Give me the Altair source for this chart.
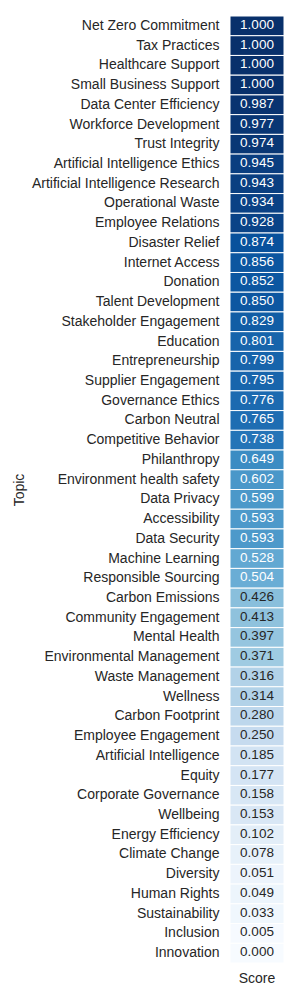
import altair as alt
import pandas as pd

topics = [
    "Net Zero Commitment", "Tax Practices", "Healthcare Support", "Small Business Support",
    "Data Center Efficiency", "Workforce Development", "Trust Integrity",
    "Artificial Intelligence Ethics", "Artificial Intelligence Research", "Operational Waste",
    "Employee Relations", "Disaster Relief", "Internet Access", "Donation",
    "Talent Development", "Stakeholder Engagement", "Education", "Entrepreneurship",
    "Supplier Engagement", "Governance Ethics", "Carbon Neutral", "Competitive Behavior",
    "Philanthropy", "Environment health safety", "Data Privacy", "Accessibility",
    "Data Security", "Machine Learning", "Responsible Sourcing", "Carbon Emissions",
    "Community Engagement", "Mental Health", "Environmental Management", "Waste Management",
    "Wellness", "Carbon Footprint", "Employee Engagement", "Artificial Intelligence",
    "Equity", "Corporate Governance", "Wellbeing", "Energy Efficiency", "Climate Change",
    "Diversity", "Human Rights", "Sustainability", "Inclusion", "Innovation",
]
scores = [
    1.000, 1.000, 1.000, 1.000, 0.987, 0.977, 0.974, 0.945, 0.943, 0.934,
    0.928, 0.874, 0.856, 0.852, 0.850, 0.829, 0.801, 0.799, 0.795, 0.776,
    0.765, 0.738, 0.649, 0.602, 0.599, 0.593, 0.593, 0.528, 0.504, 0.426,
    0.413, 0.397, 0.371, 0.316, 0.314, 0.280, 0.250, 0.185, 0.177, 0.158,
    0.153, 0.102, 0.078, 0.051, 0.049, 0.033, 0.005, 0.000,
]
columns = ["Score"] * len(topics)

df = pd.DataFrame({"Topic": topics, "Score": scores, "col": columns})
df["label"] = df["Score"].map(lambda v: f"{v:.3f}")

blues = ["#f7fbff", "#deebf7", "#c6dbef", "#9ecae1", "#6baed6",
         "#4292c6", "#2171b5", "#08519c", "#08306b"]
dom = [i / 8 for i in range(9)]

font = "Liberation Sans"

base = alt.Chart(df).encode(
    x=alt.X("col:N", title=None,
            axis=alt.Axis(labelAngle=0, domain=False, ticks=False, labelPadding=8,
                          labelFontSize=14, labelColor="#262626", labelFont=font)),
    y=alt.Y("Topic:N", sort=topics, title="Topic",
            axis=alt.Axis(domain=False, ticks=False, labelPadding=11, labelLimit=400,
                          labelFontSize=14, labelColor="#262626", labelFont=font,
                          titleFont=font, titleFontSize=14, titleFontWeight="normal",
                          titleColor="#262626", titlePadding=5)),
)

rects = base.mark_rect(stroke="white", strokeWidth=1).encode(
    color=alt.Color("Score:Q", scale=alt.Scale(domain=dom, range=blues), legend=None)
)

texts = base.mark_text(fontSize=13.5, font=font, dy=-1).encode(
    text="label:N",
    color=alt.condition(alt.datum.Score > 0.46, alt.value("white"), alt.value("#262626")),
)

chart = (rects + texts).properties(
    width=54, height=947,
    autosize=alt.AutoSizeParams(type="none"),
    padding={"left": 222, "top": 8, "right": 8, "bottom": 30},
).configure_view(stroke=None)

chart.save("out.html", embed_options={"renderer": "svg", "actions": False})
